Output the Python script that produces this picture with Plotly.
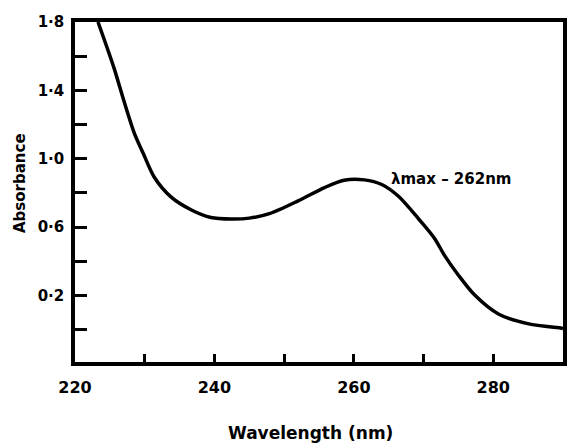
import plotly.graph_objects as go

# Data
wavelength = [223.3, 225.6, 227.0, 228.5, 229.8, 231.4, 233.8, 236.7, 239.5, 242.4,
              245.0, 248.0, 252.0, 255.8, 258.6, 261.5, 264.0, 266.4, 269.3,
              271.6, 273.0, 275.0, 277.3, 280.8, 285.1, 289.8, 290.0]
absorbance = [1.80, 1.53, 1.34, 1.15, 1.03, 0.89, 0.775, 0.70, 0.656, 0.647,
              0.652, 0.68, 0.753, 0.831, 0.874, 0.876, 0.849, 0.78, 0.647,
              0.532, 0.434, 0.318, 0.203, 0.089, 0.033, 0.008, 0.006]

x_tickvals = [220, 230, 240, 250, 260, 270, 280]
x_ticktext = ["220", "", "240", "", "260", "", "280"]
y_tickvals = [0.0, 0.2, 0.4, 0.6, 0.8, 1.0, 1.2, 1.4, 1.6, 1.8]
y_ticktext = ["", "0·2", "", "0·6", "", "1·0", "", "1·4", "", "1·8"]

peak_label = "λmax – 262nm"
peak_x, peak_y = 265.0, 0.88
x_title = "Wavelength (nm)"
y_title = "Absorbance"

FONT = "DejaVu Sans"

fig = go.Figure()
fig.add_trace(go.Scatter(
    x=wavelength, y=absorbance, mode="lines",
    line=dict(color="black", width=3.5, shape="spline", smoothing=0.8),
    hoverinfo="skip", showlegend=False,
))

fig.add_annotation(
    x=peak_x, y=peak_y, text=peak_label, showarrow=False,
    xanchor="left", yanchor="middle",
    font=dict(family=FONT, size=15, color="black", weight="bold"),
)
fig.add_annotation(
    xref="paper", yref="paper", x=0.482, y=-0.209, text=x_title,
    showarrow=False, xanchor="center", yanchor="middle",
    font=dict(family=FONT, size=17, color="black", weight="bold"),
)
fig.add_annotation(
    xref="paper", yref="paper", x=-0.113, y=0.526, text=y_title,
    showarrow=False, xanchor="center", yanchor="middle", textangle=-90,
    font=dict(family=FONT, size=15, color="black", weight="bold"),
)

fig.update_layout(
    width=572, height=437,
    margin=dict(l=67, r=17, t=14, b=83),
    paper_bgcolor="white", plot_bgcolor="white",
    showlegend=False,
    font=dict(family=FONT, size=16, color="black", weight="bold"),
)

fig.update_xaxes(
    range=[220, 290], tickvals=x_tickvals, ticktext=x_ticktext,
    ticks="inside", ticklen=8, tickwidth=3, tickcolor="black",
    showline=True, linecolor="black", linewidth=3.5, mirror=True,
    showgrid=False, zeroline=False, ticklabelstandoff=8,
    tickfont=dict(family=FONT, size=16, color="black", weight="bold"),
    automargin=False,
)
fig.update_yaxes(
    range=[-0.19, 1.8], tickvals=y_tickvals, ticktext=y_ticktext,
    ticks="inside", ticklen=12, tickwidth=3, tickcolor="black",
    showline=True, linecolor="black", linewidth=3.5, mirror=True,
    showgrid=False, zeroline=False, ticklabelstandoff=4,
    tickfont=dict(family=FONT, size=15, color="black", weight="bold"),
    automargin=False,
)

fig.write_html("out.html")
